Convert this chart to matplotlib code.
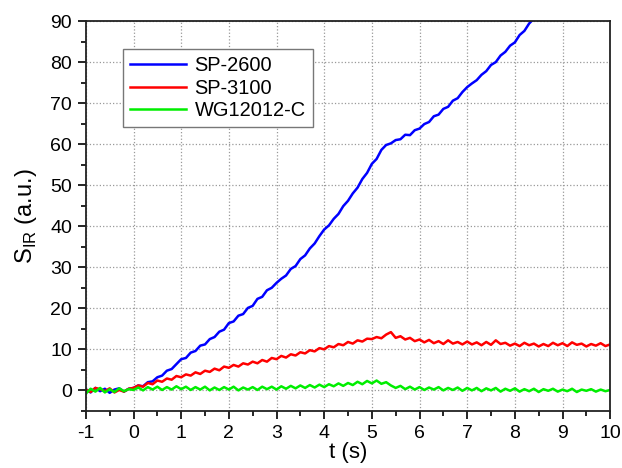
import numpy as np
import matplotlib
matplotlib.use("Agg")
import matplotlib.pyplot as plt
from matplotlib.ticker import MultipleLocator

plt.rcParams['font.family'] = ['Liberation Sans', 'DejaVu Sans']
plt.rcParams['axes.unicode_minus'] = False

# time axis (s), sampled every 0.1 s
t = np.linspace(-1, 10, 111)

sp2600 = [0.3, -0.5, 0.6, -0.2, 0.4, -0.6, 0.2, 0.5, -0.3, 0.4,
          0.6, 1.2, 1.0, 2.0, 2.2, 3.2, 3.6, 4.8, 5.2, 6.4, 7.6,
          7.9, 9.2, 9.6, 10.9, 11.2, 12.5, 13.0, 14.3, 14.8, 16.4,
          16.8, 18.2, 18.6, 20.1, 20.6, 22.3, 22.8, 24.4, 25.0, 26.2,
          27.2, 28.0, 29.6, 30.3, 32.0, 32.9, 34.6, 35.8, 37.6, 39.2,
          40.2, 41.8, 43.0, 44.9, 46.2, 48.0, 49.4, 51.5, 53.0, 55.2,
          56.4, 58.6, 59.8, 60.2, 61.0, 61.2, 62.3, 62.2, 63.4, 63.8,
          64.9, 65.4, 66.8, 67.2, 68.6, 69.1, 70.6, 71.2, 72.7, 73.9,
          74.8, 75.6, 76.9, 77.8, 79.3, 80.0, 81.6, 82.5, 84.0, 84.8,
          86.6, 87.6, 89.4, 90.6, 92.0]

sp3100 = [0.2, -0.4, 0.6, 0.3, -0.2, 0.5, -0.5, 0.1, -0.3, 0.4,
          0.6, 1.2, 0.9, 1.8, 1.5, 2.4, 2.1, 2.9, 2.6, 3.5, 3.2,
          3.9, 3.6, 4.4, 4.0, 4.8, 4.5, 5.3, 4.9, 5.8, 5.5,
          6.2, 5.8, 6.6, 6.3, 7.0, 6.6, 7.4, 7.0, 7.9, 7.6,
          8.4, 8.0, 8.8, 8.5, 9.3, 9.0, 9.8, 9.5, 10.3, 10.0,
          10.8, 10.5, 11.3, 11.0, 11.8, 11.4, 12.2, 11.9, 12.6, 12.5,
          13.0, 12.7, 13.6, 14.2, 12.8, 13.2, 12.4, 12.8, 12.0, 12.4,
          11.7, 12.3, 11.5, 12.0, 11.3, 12.2, 11.4, 11.8, 11.2, 11.9,
          11.2, 11.7, 11.0, 11.8, 11.1, 12.2, 11.3, 11.6, 10.9, 11.4,
          10.8, 11.6, 11.0, 11.4, 10.7, 11.3, 10.8, 11.6, 11.0, 11.5,
          10.8, 11.7, 11.1, 11.4, 10.7, 11.3, 10.9, 11.5, 10.8, 11.2]

wg12012 = [-0.8, 0.4, -0.3, 0.6, -0.5, 0.3, -0.4, 0.5, -0.2, 0.3,
           0.1, 0.7, 0.0, 0.8, 0.2, 0.9, 0.1, 0.8, 0.2, 1.0, 0.3,
           0.9, 0.1, 0.8, 0.2, 0.9, 0.0, 0.7, 0.1, 0.8, 0.2,
           0.9, 0.0, 0.7, 0.2, 0.8, 0.1, 0.9, 0.3, 0.9, 0.2,
           1.0, 0.4, 1.1, 0.5, 1.2, 0.6, 1.3, 0.7, 1.4, 0.8,
           1.5, 1.0, 1.7, 1.1, 1.8, 1.3, 2.1, 1.5, 2.3, 1.7,
           2.4, 1.6, 2.0, 1.2, 0.6, 1.1, 0.3, 0.9, 0.2, 0.8,
           0.1, 0.7, 0.2, 0.8, 0.0, 0.6, 0.1, 0.7, -0.1, 0.6,
           0.0, 0.6, -0.2, 0.5, 0.0, 0.6, -0.3, 0.4, -0.1, 0.5,
           -0.3, 0.3, -0.2, 0.4, -0.4, 0.3, -0.1, 0.4, -0.3, 0.2,
           -0.2, 0.4, -0.4, 0.2, -0.1, 0.3, -0.3, 0.2, -0.2, 0.1]

labels = ["SP-2600", "SP-3100", "WG12012-C"]
colors = ["#0000ff", "#ff0000", "#00ee00"]

fig = plt.figure(figsize=(6.22, 4.68), dpi=100)
ax = fig.add_axes([0.138, 0.122, 0.843, 0.833])

ax.plot(t[:len(sp2600)], sp2600, color=colors[0], lw=1.8, label=labels[0])
ax.plot(t, sp3100, color=colors[1], lw=1.8, label=labels[1])
ax.plot(t, wg12012, color=colors[2], lw=1.8, label=labels[2])

ax.set_xlim(-1, 10)
ax.set_ylim(-5, 90)
ax.xaxis.set_major_locator(MultipleLocator(1))
ax.xaxis.set_minor_locator(MultipleLocator(0.5))
ax.yaxis.set_minor_locator(MultipleLocator(5))
ax.set_yticks(np.arange(0, 91, 10))
ax.tick_params(which='major', direction='out', length=6, width=1.2,
               labelsize=14, pad=4)
ax.tick_params(which='minor', direction='out', length=3.5, width=1.2)
ax.grid(True, which='major', ls=':', color='#999999', lw=0.9)
for s in ax.spines.values():
    s.set_linewidth(1.3)
    s.set_color('#222222')

ax.set_xlabel("t (s)", fontsize=16, labelpad=0)
ax.set_ylabel(r"S$_\mathregular{IR}$ (a.u.)", fontsize=17, labelpad=8)

leg = ax.legend(loc='upper left', bbox_to_anchor=(0.07, 0.928), fontsize=14.4,
                fancybox=False, framealpha=1, edgecolor='#777777',
                handlelength=2.8, borderpad=0.35, labelspacing=0.18,
                handletextpad=0.45, borderaxespad=0)
leg.get_frame().set_linewidth(1.0)

fig.savefig("out.png", dpi=100)
